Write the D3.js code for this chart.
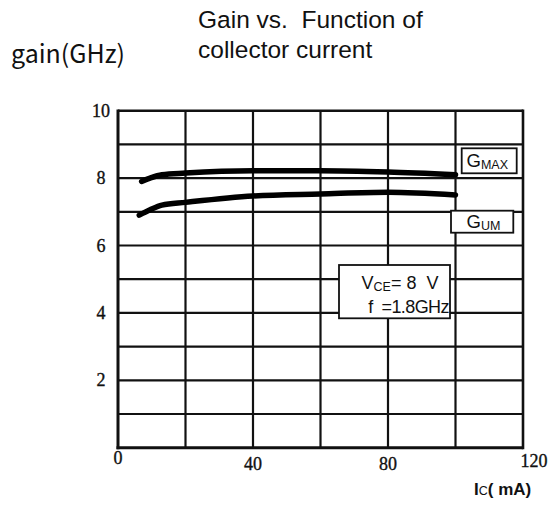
<!DOCTYPE html>
<html><head><meta charset="utf-8">
<script src="https://cdn.jsdelivr.net/npm/d3@7/dist/d3.min.js"></script>
<style>body{margin:0;background:#fff}</style>
</head><body>
<svg id="c" width="557" height="517"></svg>
<script>
const xTickLabels = [0, 40, 80, 120];
const yTickLabels = [2, 4, 6, 8, 10];
const xGrid = [20, 40, 60, 80, 100];
const yGrid = [1, 2, 3, 4, 5, 6, 7, 8, 9];
const gmaxX = [7, 9.5, 13, 20, 40, 60, 80, 100];
const gmaxY = [7.9, 8.0, 8.1, 8.15, 8.22, 8.22, 8.18, 8.10];
const gumX = [6.3, 9.5, 13, 20, 40, 60, 80, 100];
const gumY = [6.9, 7.06, 7.2, 7.28, 7.47, 7.53, 7.58, 7.50];

const svg = d3.select("#c");
const x = d3.scaleLinear().domain([0, 120]).range([118, 523]);
const y = d3.scaleLinear().domain([0, 10]).range([447.7, 110.7]);

// titles
svg.append("text").attr("x", 11).attr("y", 63).attr("font-family", "Noto Sans CJK KR, Noto Sans").attr("font-size", 25).attr("fill", "#111").text("gain(GHz)");
svg.append("text").attr("x", 198).attr("y", 28).attr("font-family", "Liberation Sans, Arial").attr("font-size", 24.5).attr("fill", "#111").style("white-space","pre").text("Gain vs.  Function of");
svg.append("text").attr("x", 198).attr("y", 58).attr("font-family", "Liberation Sans, Arial").attr("font-size", 24.5).attr("fill", "#111").text("collector current");

// grid
svg.selectAll(".vg").data(xGrid).enter().append("line")
  .attr("x1", d => x(d)).attr("x2", d => x(d)).attr("y1", y(0)).attr("y2", y(10))
  .attr("stroke", "#111").attr("stroke-width", 2.2);
svg.selectAll(".hg").data(yGrid).enter().append("line")
  .attr("y1", d => y(d)).attr("y2", d => y(d)).attr("x1", x(0)).attr("x2", x(120))
  .attr("stroke", "#111").attr("stroke-width", 2.2);

// frame
svg.append("line").attr("x1", x(0)).attr("x2", x(120)).attr("y1", y(10)).attr("y2", y(10)).attr("stroke", "#111").attr("stroke-width", 2.6);
svg.append("line").attr("x1", x(120)).attr("x2", x(120)).attr("y1", y(10)-1.3).attr("y2", y(0)+1.5).attr("stroke", "#111").attr("stroke-width", 2.6);
svg.append("line").attr("x1", x(0)-1.5).attr("x2", x(120)).attr("y1", y(0)).attr("y2", y(0)).attr("stroke", "#111").attr("stroke-width", 3);
svg.append("line").attr("x1", x(0)).attr("x2", x(0)).attr("y1", y(10)-1.3).attr("y2", y(0)+1.5).attr("stroke", "#111").attr("stroke-width", 3);

// tick labels
svg.selectAll(".yl").data(yTickLabels).enter().append("text")
  .attr("x", 101).attr("y", d => y(d) + 6).attr("text-anchor", "middle")
  .attr("font-family", "Liberation Serif, Times New Roman, serif").attr("font-size", 18)
  .attr("fill", "#111").attr("stroke", "#111").attr("stroke-width", 0.35).text(d => d);
const xlOff = {0: 16.5, 40: 22.5, 80: 22.5, 120: 19.5};
svg.selectAll(".xl").data(xTickLabels).enter().append("text")
  .attr("x", d => x(d) + (d === 120 ? 11 : 0)).attr("y", d => y(0) + xlOff[d]).attr("text-anchor", "middle")
  .attr("font-family", "Liberation Serif, Times New Roman, serif").attr("font-size", 18)
  .attr("fill", "#111").attr("stroke", "#111").attr("stroke-width", 0.35).text(d => d);

// axis title
const at = svg.append("text").attr("x", 474).attr("y", 495).attr("font-family", "Liberation Sans, Arial").attr("font-weight", "bold").attr("font-size", 17).attr("fill", "#111");
at.append("tspan").text("I");
at.append("tspan").attr("font-size", 12.5).attr("font-weight", "normal").text("C");
at.append("tspan").text("( mA)");

// curves
const line = d3.line().x(d => x(d[0])).y(d => y(d[1])).curve(d3.curveMonotoneX);
svg.append("path").attr("d", line(d3.zip(gmaxX, gmaxY))).attr("fill", "none").attr("stroke", "#000").attr("stroke-width", 5.5).attr("stroke-linecap", "round");
svg.append("path").attr("d", line(d3.zip(gumX, gumY))).attr("fill", "none").attr("stroke", "#000").attr("stroke-width", 5.5).attr("stroke-linecap", "round");

// label boxes
function box(x0, y0, x1, y1) {
  svg.append("rect").attr("x", x0).attr("y", y0).attr("width", x1 - x0).attr("height", y1 - y0)
    .attr("fill", "#fff").attr("stroke", "#111").attr("stroke-width", 1.8);
}
box(461.7, 148.3, 516.7, 173.3);
const t1 = svg.append("text").attr("x", 466.5).attr("y", 167.3).attr("font-family", "Liberation Sans, Arial").attr("font-size", 18.5).attr("fill", "#111");
t1.append("tspan").text("G");
t1.append("tspan").attr("font-size", 12.5).attr("dy", 1.5).text("MAX");

box(451, 210.7, 513.3, 232.7);
const t2 = svg.append("text").attr("x", 466.5).attr("y", 228).attr("font-family", "Liberation Sans, Arial").attr("font-size", 18.5).attr("fill", "#111");
t2.append("tspan").text("G");
t2.append("tspan").attr("font-size", 12.5).attr("dy", 1.5).text("UM");

box(339, 265, 450, 318.3);
const t3 = svg.append("text").attr("x", 361.5).attr("y", 289.3).attr("font-family", "Liberation Sans, Arial").attr("font-size", 18).attr("fill", "#111").style("white-space", "pre");
t3.append("tspan").text("V");
t3.append("tspan").attr("font-size", 12.5).attr("dy", 1.5).text("CE");
t3.append("tspan").attr("dy", -1.5).text("= 8  V");
svg.append("text").attr("x", 368.3).attr("y", 313.3).attr("font-family", "Liberation Sans, Arial").attr("font-size", 18).attr("fill", "#111").attr("letter-spacing", -0.6).style("white-space", "pre").text("f  =1.8GHz");
</script>
</body></html>
